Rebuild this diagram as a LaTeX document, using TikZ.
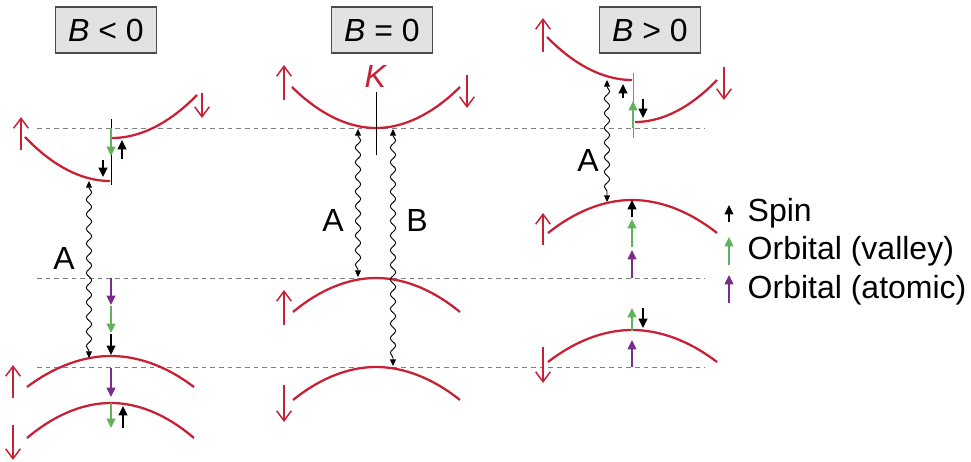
\documentclass[tikz,border=0pt]{standalone}
\usepackage{fontspec}
\setmainfont{Liberation Sans}
\usetikzlibrary{arrows.meta, decorations.pathmorphing}

\definecolor{bandred}{RGB}{200,32,52}
\definecolor{valgreen}{RGB}{96,178,92}
\definecolor{atompurple}{RGB}{122,44,140}
\definecolor{boxgray}{RGB}{226,226,226}

\begin{document}
\begin{tikzpicture}[
  x=0.75pt, y=-0.75pt,
  font=\fontsize{24}{28}\selectfont,
  level/.style={gray, line width=0.7pt, dash pattern=on 3.5pt off 3pt},
  band/.style={bandred, line width=1.7pt},
  sarr/.style={bandred, line width=1.1pt, -{Straight Barb[length=7.5pt, width=11pt]}},
  tick/.style={line width=0.6pt},
  spin/.style={black, line width=1.3pt, -{Triangle[length=7pt, width=6.5pt]}},
  valley/.style={spin, valgreen},
  atomic/.style={spin, atompurple},
  wave/.style={line width=0.7pt, {Triangle[length=5pt, width=4.5pt]}-{Triangle[length=5pt, width=4.5pt]},
    decorate, decoration={snake, amplitude=2pt, segment length=11pt, pre length=5pt, post length=5pt}},
  box/.style={draw=black!70, fill=boxgray, line width=0.8pt, minimum width=75.5pt, minimum height=34.5pt, inner sep=0pt}
  ]
  \useasboundingbox (0,0) rectangle (971,461);

  \draw[level] (37,128) -- (705,128);
  \draw[level] (37,278) -- (705,278);
  \draw[level] (37,367) -- (705,367);

  \node[box] (bneg) at (106,30) {\textit{B} < 0};
  \node[box] (bzero) at (382,30) {\textit{B} = 0};
  \node[box] (bpos) at (650,30) {\textit{B} > 0};

  % B < 0
  \coordinate (cneg) at (89,181);
  \coordinate (vneg) at (89,358);
  \draw[band] (25,137) parabola[bend at end] (110,181);
  \draw[band] (112,138) parabola (197,95);
  \draw[tick] (111,119) -- (111,185);
  \draw[sarr] (21,150) -- (21,117);
  \draw[sarr] (202,93) -- (202,118);
  \draw[valley] (111,128) -- (111,156);
  \draw[spin] (103,160) -- (103,177);
  \draw[spin] (122,159) -- (122,140);
  \draw[band] (27,387) parabola bend (111,356) (194,387);
  \draw[band] (27,438) parabola bend (111,403) (194,438);
  \draw[sarr] (13,398) -- (13,365);
  \draw[sarr] (13,425) -- (13,460);
  \draw[atomic] (111,278) -- (111,305);
  \draw[valley] (111,306) -- (111,333);
  \draw[spin] (111,334) -- (111,355);
  \draw[atomic] (111,368) -- (111,397);
  \draw[valley] (111,403) -- (111,428);
  \draw[spin] (123,428) -- (123,406);
  \draw[wave] (cneg) -- (vneg);
  \node (aneg) at (64,258) {A};

  % B = 0
  \coordinate (czA) at (358,129);
  \coordinate (vzA) at (358,277);
  \coordinate (czB) at (393,129);
  \coordinate (vzB) at (393,366);
  \draw[band] (292,87) parabola bend (376,128) (460,87);
  \draw[band] (293,312) parabola bend (376,278) (460,312);
  \draw[band] (293,400) parabola bend (376,367) (460,400);
  \node[text=bandred] (kpt) at (376,76) {\textit{K}};
  \draw[tick] (376,92) -- (376,155);
  \draw[sarr] (284,100) -- (284,65);
  \draw[sarr] (467,75) -- (467,108);
  \draw[sarr] (284,325) -- (284,290);
  \draw[sarr] (284,385) -- (284,422);
  \draw[wave] (czA) -- (vzA);
  \draw[wave] (czB) -- (vzB);
  \node (azero) at (333,220) {A};
  \node (bzlab) at (417,220) {B};

  % B > 0
  \coordinate (cpos) at (607,80);
  \coordinate (vpos) at (607,202);
  \draw[band] (547,37) parabola[bend at end] (632,80);
  \draw[band] (635,122) parabola (717,80);
  \draw[tick, valgreen!50!gray] (633,73) -- (633,138);
  \draw[sarr] (543,52) -- (543,18);
  \draw[sarr] (724,67) -- (724,100);
  \draw[spin] (623,98) -- (623,84);
  \draw[valley] (633,128) -- (633,101);
  \draw[spin] (643,99) -- (643,118);
  \draw[band] (548,233) parabola bend (632,200) (717,233);
  \draw[band] (548,362) parabola bend (632,330) (717,362);
  \draw[sarr] (543,245) -- (543,213);
  \draw[sarr] (543,347) -- (543,383);
  \draw[spin] (632,217) -- (632,200);
  \draw[valley] (632,247) -- (632,219);
  \draw[atomic] (632,278) -- (632,250);
  \draw[atomic] (632,367) -- (632,340);
  \draw[valley] (632,331) -- (632,308);
  \draw[spin] (643,308) -- (643,328);
  \draw[wave] (cpos) -- (vpos);
  \node (apos) at (588,160) {A};

  % legend
  \node[anchor=west] (lspin) at (743,213) {Spin};
  \node[anchor=west] (lvalley) at (743,251) {Orbital (valley)};
  \node[anchor=west] (latomic) at (743,290) {Orbital (atomic)};
  \draw[spin] (729,222) -- (729,205);
  \draw[valley] (729,265) -- (729,237);
  \draw[atomic] (729,303) -- (729,275);
\end{tikzpicture}
\end{document}
